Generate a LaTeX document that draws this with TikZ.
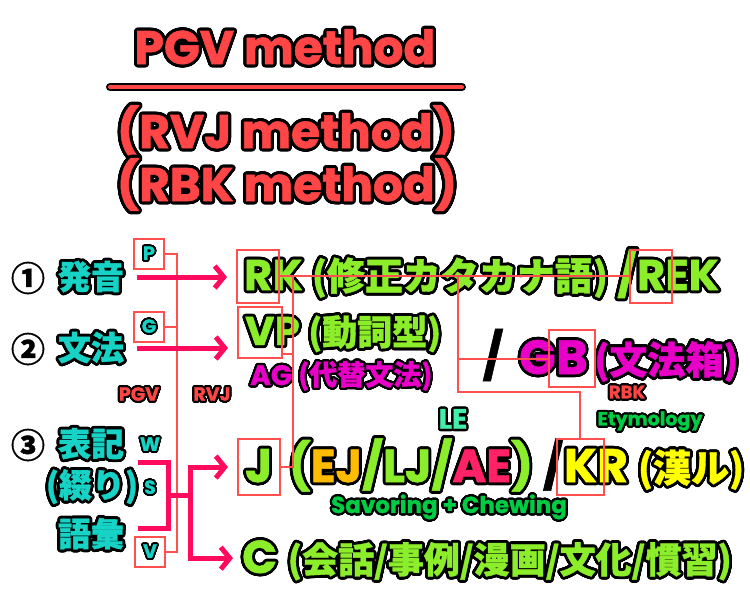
\documentclass[tikz,border=0pt]{standalone}
\usepackage{fontspec}
\setmainfont{Poppins}[BoldFeatures={FakeBold=1.2}]
\newfontfamily\jpf{Noto Sans CJK JP}[BoldFeatures={FakeBold=1}]
\usepackage[copies]{contour}
\usetikzlibrary{arrows.meta,fit,positioning}

\contournumber{32}

\definecolor{titlered}{HTML}{FF4545}
\definecolor{kwcyan}{HTML}{16D3C6}
\definecolor{keylime}{HTML}{8CEE2A}
\definecolor{agmag}{HTML}{E800C8}
\definecolor{arrowpink}{HTML}{FF0A5C}
\definecolor{linered}{HTML}{FF4F4F}
\definecolor{ejorange}{HTML}{FFBB00}
\definecolor{aepink}{HTML}{FF2266}
\definecolor{kryellow}{HTML}{FFFF00}
\definecolor{etygreen}{HTML}{00CC44}
\definecolor{lemint}{HTML}{44EEAA}

% outlined text and font helpers
\newcommand{\olt}[3][2.8pt]{{\contourlength{#1}\textcolor{#2}{\contour{black}{#3}}}}
\newcommand{\jp}[2]{{\fontsize{#1}{#1}\jpf #2}}
\newcommand{\fs}[1]{\bfseries\fontsize{#1}{#1}\selectfont}

\tikzset{
  seg/.style={inner sep=0pt, anchor=base west},
  kw/.style={inner sep=0pt, font=\fs{33}\jpf},
  num/.style={inner sep=0pt, font=\fs{34}\jpf},
  tag/.style={inner sep=0pt, font=\fs{19}},
  letterbox/.style={draw=linered, line width=2pt, inner xsep=7pt, inner ysep=10pt},
  smallbox/.style={draw=linered, line width=2pt, minimum size=30pt, inner sep=0pt},
  link/.style={draw=linered, line width=2pt},
  pinkline/.style={draw=arrowpink, line width=5pt},
  pinkarrow/.style={pinkline, -{Straight Barb[length=9pt,width=22pt]}, shorten >=9pt},
}

\begin{document}
\begin{tikzpicture}[x=1pt,y=-1pt]
\useasboundingbox (0,0) rectangle (750,600);

% title
\node[inner sep=0pt, anchor=base, font=\fs{47}] (pgv) at (285,64) {\olt[3pt]{titlered}{PGV method}};
\draw[line width=8pt, line cap=round] (110,87) -- (462,87);
\draw[line width=4pt, line cap=round, titlered] (110,87) -- (462,87);
\node[inner sep=0pt, anchor=base, font=\fs{47}] (rvj) at (286,148) {\olt[3pt]{titlered}{(RVJ method)}};
\node[inner sep=0pt, anchor=base, font=\fs{47}] (rbk) at (287,201) {\olt[3pt]{titlered}{(RBK method)}};

% left column
\node[num] (n1) at (28,278) {①};
\node[kw] (hatsuon) at (91,278) {\olt{kwcyan}{発音}};
\node[num] (n2) at (28,349) {②};
\node[kw] (bunpou) at (91,349) {\olt{kwcyan}{文法}};
\node[num] (n3) at (28,445) {③};
\node[kw] (hyouki) at (91,445) {\olt{kwcyan}{表記}};
\node[kw] (tsuzuri) at (92,488) {\olt{kwcyan}{(綴り)}};
\node[kw] (goi) at (91,535) {\olt{kwcyan}{語彙}};

\node[smallbox, tag] (pbox) at (149,254) {\olt[1.8pt]{kwcyan}{P}};
\node[smallbox, tag] (gbox) at (149,327) {\olt[1.8pt]{kwcyan}{G}};
\node[tag] (wtag) at (150,445) {\olt[1.8pt]{kwcyan}{W}};
\node[tag] (stag) at (150,488) {\olt[1.8pt]{kwcyan}{S}};
\node[smallbox, tag] (vbox) at (150,552) {\olt[1.8pt]{kwcyan}{V}};

\node[tag] (pgvtag) at (139,395) {\olt[2pt]{titlered}{PGV}};
\node[tag] (rvjtag) at (212,395) {\olt[2pt]{titlered}{RVJ}};

% right column
\node[seg, font=\fs{43}] (rkR) at (244,290) {\olt{keylime}{R}};
\node[seg, font=\fs{43}] (rkrest) at (rkR.base east) {\olt{keylime}{K \jp{38}{(修正カタカナ語)} /}};
\node[seg, font=\fs{43}] (rekR) at (rkrest.base east) {\olt{keylime}{R}};
\node[seg, font=\fs{43}] (rekrest) at (rekR.base east) {\olt{keylime}{EK}};

\node[seg, font=\fs{40}] (vpV) at (245,345) {\olt{keylime}{V}};
\node[seg, font=\fs{40}] (vprest) at (vpV.base east) {\olt{keylime}{P \jp{35}{(動詞型)}}};
\node[seg, font=\fs{28}] (ag) at (250,385) {\olt[2.2pt]{agmag}{AG \jp{28}{(代替文法)}}};

\node[inner sep=0pt, font=\fs{46}] (slash) at (493,355) {/};
\node[seg, font=\fs{48}] (gbG) at (519,374) {\olt{agmag}{G}};
\node[seg, font=\fs{48}] (gbB) at (gbG.base east) {\olt{agmag}{B}};
\node[seg, font=\fs{38}, xshift=6pt] (gbrest) at (gbB.base east) {\olt{agmag}{\jp{38}{(文法箱)}}};

\node[inner sep=0pt, font=\fs{18}] (rbktag) at (627,393) {\olt[2pt]{titlered}{RBK}};
\node[inner sep=0pt, font=\fs{19}] (ety) at (650,422) {\olt[2pt]{etygreen}{Etymology}};
\node[inner sep=0pt, font=\fs{28}] (le) at (453,420) {\olt[2.2pt]{lemint}{LE}};

\node[seg, font=\fs{47}] (jJ) at (245,482) {\olt{keylime}{J}};
\node[seg, font=\fs{46}, xshift=16pt] (jrest) at (jJ.base east) {\olt{keylime}{(}\olt{ejorange}{EJ}\olt{keylime}{/LJ/}\olt{aepink}{AE}\olt{keylime}{)}\ /};
\node[seg, font=\fs{47}] (krK) at (jrest.base east) {\olt{kryellow}{K}};
\node[seg, font=\fs{47}] (krrest) at (krK.base east) {\olt{kryellow}{R \jp{38}{(漢ル)}}};

\node[inner sep=0pt, font=\fs{23}] (savor) at (449,508) {\olt[2.2pt]{etygreen}{Savoring + Chewing}};

\node[seg, font=\fs{46}] (cC) at (242,573) {\olt{keylime}{C}};
\node[seg, font=\fs{36}, xshift=10pt] (crest) at (cC.base east) {\olt{keylime}{\jp{36}{(会話/事例/漫画/文化/慣習)}}};

% letter boxes
\node[letterbox, fit=(rkR)] (rkbox) {};
\node[letterbox, fit=(rekR)] (rekbox) {};
\node[letterbox, fit=(vpV)] (vpbox) {};
\node[letterbox, fit=(gbB)] (gbbox) {};
\node[letterbox, fit=(jJ)] (jbox) {};
\node[letterbox, fit=(krK)] (krbox) {};

% PGV tree
\draw[link] (pbox.east) -- ++(12,0) coordinate (pgvtop) |- (vbox.east);
\draw[link] (gbox.east) -- (gbox.east -| pgvtop);

% RVJ tree
\draw[link] (rkbox.east) -- (rekbox.west);
\draw[link] (rkbox.east) -- ++(13,0) coordinate (rvjtop) |- (jbox.east);
\coordinate (vpjoin) at ([yshift=5pt]vpbox.south east);
\draw[link] (vpjoin) -- (vpjoin -| rvjtop);

% RBK tree
\coordinate (rbktop) at (458,0 |- rkbox.east);
\draw[link] (rbktop) -- (rbktop |- 0,392) -| (krbox.north);
\draw[link] (rbktop |- gbbox.west) -- (gbbox.west);

% pink arrows
\coordinate (a1) at (137,277);
\coordinate (a2) at (137,348);
\draw[pinkarrow] (a1) -- (a1 -| rkbox.west);
\draw[pinkarrow] (a2) -- (a2 -| vpbox.west);
\coordinate (brtop) at (138,462);
\coordinate (brbot) at (138,528);
\coordinate (brmid) at (168,495);
\coordinate (brfork) at (190,495);
\draw[pinkline] (brtop) -| (brmid) |- (brbot);
\draw[pinkline] (brmid) -- (brfork);
\draw[pinkarrow] (brfork) |- (jbox.west);
\draw[pinkarrow] (brfork) |- (cC.west);
\end{tikzpicture}
\end{document}
